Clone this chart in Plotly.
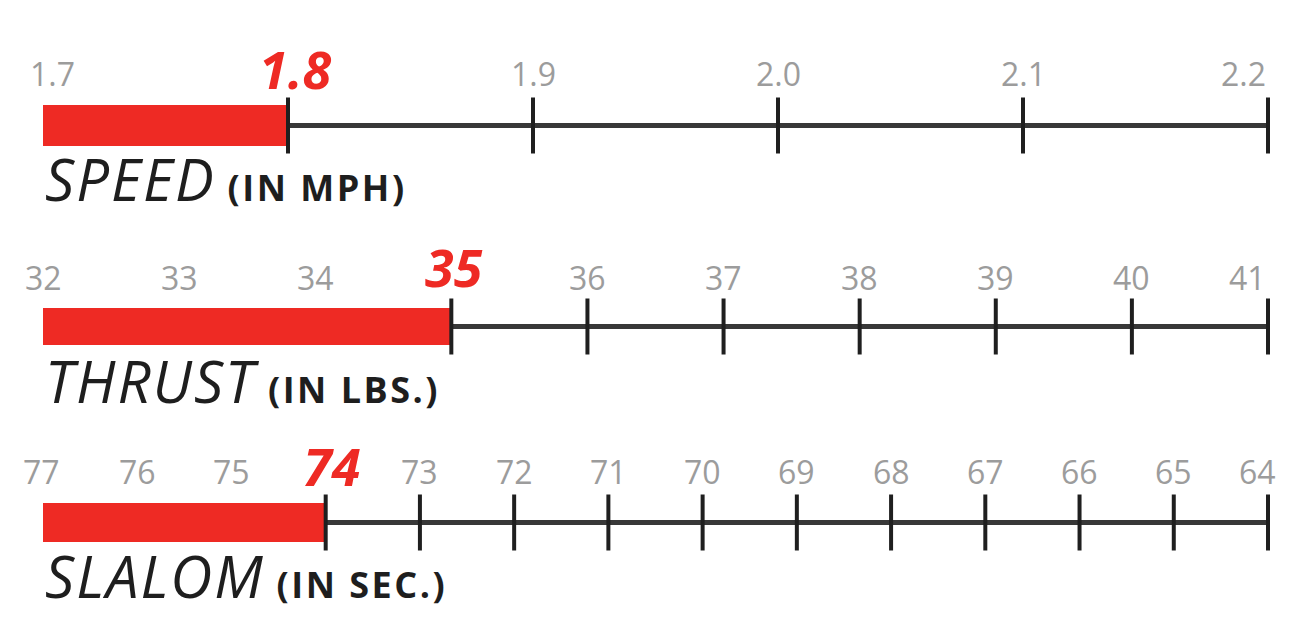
import plotly.graph_objects as go

# ---- data ----
titles = ["SPEED", "THRUST", "SLALOM"]
units = ["(IN MPH)", "(IN LBS.)", "(IN SEC.)"]
values = [1.8, 35, 74]
tick_values = [
    [1.7, 1.8, 1.9, 2.0, 2.1, 2.2],
    [32, 33, 34, 35, 36, 37, 38, 39, 40, 41],
    [77, 76, 75, 74, 73, 72, 71, 70, 69, 68, 67, 66, 65, 64],
]
tick_labels = [
    ["1.7", "1.8", "1.9", "2.0", "2.1", "2.2"],
    ["32", "33", "34", "35", "36", "37", "38", "39", "40", "41"],
    ["77", "76", "75", "74", "73", "72", "71", "70", "69", "68", "67", "66", "65", "64"],
]

# ---- style ----
W, H = 1310, 634
RED = "#ee2a24"
LINE = "#383838"
TICK = "#1f1f1f"
GRAY = "#9c9c9c"
FONT = "Open Sans"
bar_px = [(105, 146), (308, 345), (503, 542)]   # top/bottom of each bar row in px
title_px = [178, 380, 575]
first_shift = [9, 0, -2]      # px nudge of first tick label
last_shift = [0, 0, 10]       # px nudge of last tick label (right-anchored)
val_xshift = [7, 3, 6]
val_yshift = [36, 42, 37]
x_dom = [43 / W, 1268 / W]

fig = go.Figure()

for i in range(3):
    n = "" if i == 0 else str(i + 1)
    xa, ya = "x" + n, "y" + n
    tv, tl, v = tick_values[i], tick_labels[i], values[i]
    start, end = tv[0], tv[-1]
    rev = end < start

    # axis line from value to end
    fig.add_trace(go.Scatter(x=[v, end], y=[0, 0], mode="lines",
                             line=dict(color=LINE, width=5),
                             xaxis=xa, yaxis=ya, hoverinfo="skip", cliponaxis=False))
    # red bar
    fig.add_trace(go.Bar(x=[v - start], base=[start], y=[0], orientation="h",
                         width=1, marker=dict(color=RED, line=dict(width=0)),
                         xaxis=xa, yaxis=ya, hoverinfo="skip"))
    # tick marks (those not covered by the bar)
    shown = [t for t in tv if (t <= v if rev else t >= v)]
    fig.add_trace(go.Scatter(x=shown, y=[0] * len(shown), mode="markers",
                             marker=dict(symbol="line-ns", size=40,
                                         line=dict(color=TICK, width=4)),
                             xaxis=xa, yaxis=ya, hoverinfo="skip", cliponaxis=False))

    top, bot = bar_px[i]
    fig.layout["xaxis" + n] = dict(
        domain=x_dom, range=[start, end], anchor=ya, visible=False,
        automargin=False, fixedrange=True,
    )
    fig.layout["yaxis" + n] = dict(
        domain=[1 - bot / H, 1 - top / H], range=[-0.5, 0.5], anchor=xa,
        visible=False, fixedrange=True, automargin=False,
    )
    # tick labels (grey), skipping the highlighted value
    for k, (t, lab) in enumerate(zip(tv, tl)):
        if t == v:
            continue
        anchor, xs = "center", 0
        if k == 0:
            xs = first_shift[i]
        if k == len(tv) - 1:
            anchor, xs = "right", last_shift[i]
        fig.add_annotation(x=t, y=0.5, xref=xa, yref=ya, text=lab, showarrow=False,
                           xanchor=anchor, yanchor="middle", xshift=xs, yshift=31,
                           font=dict(family=FONT, size=32, color=GRAY))
    # highlighted value label
    fig.add_annotation(x=v, y=0.5, xref=xa, yref=ya, text="<b><i>%s</i></b>" % tl[tv.index(v)],
                       showarrow=False, xanchor="center", yanchor="middle",
                       yshift=val_yshift[i], xshift=val_xshift[i],
                       font=dict(family=FONT, size=52, color=RED))
    # title
    fig.add_annotation(x=x_dom[0], y=1 - title_px[i] / H, xref="paper", yref="paper",
                       xanchor="left", yanchor="middle", showarrow=False,
                       text=("<i><span style='letter-spacing:2px'>%s</span></i>"
                             "<b><span style='font-size:36px;letter-spacing:2.5px'> %s</span></b>")
                       % (titles[i], units[i]),
                       font=dict(family=FONT, size=58, color="#1e1e1e"))

fig.update_layout(
    width=W, height=H, margin=dict(l=0, r=0, t=0, b=0, autoexpand=False),
    paper_bgcolor="white", plot_bgcolor="white", showlegend=False,
    bargap=0,
)

fig.write_html("out.html", config={"displayModeBar": False, "staticPlot": True},
               post_script="document.body.style.margin='0px';")
